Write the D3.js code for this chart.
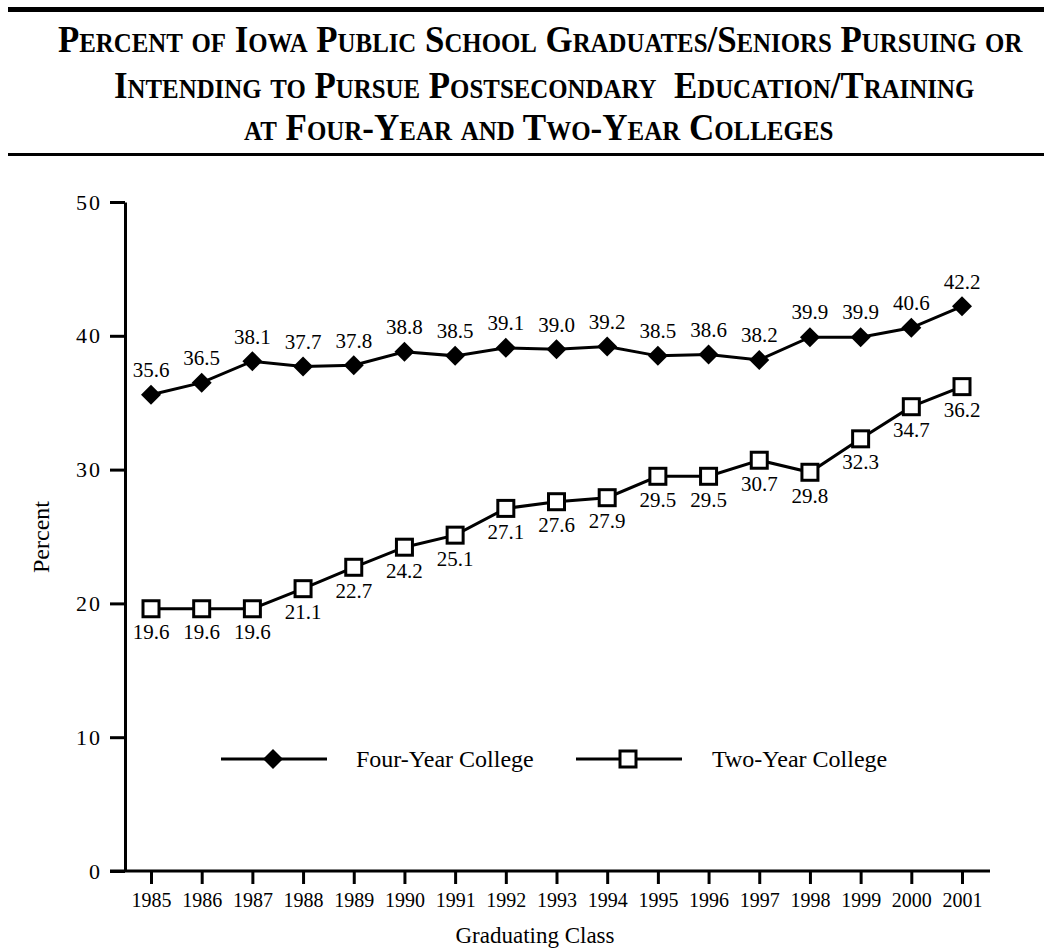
<!DOCTYPE html>
<html>
<head>
<meta charset="utf-8">
<script src="https://cdn.jsdelivr.net/npm/d3@7"></script>
<style>
  body { margin: 0; background: #fff; }
  svg { display: block; font-family: "Liberation Serif", "Times New Roman", serif; }
  svg text { font-family: "Liberation Serif", "Times New Roman", serif; fill: #000; }
  .axis path, .axis line { stroke: #000; stroke-width: 3; }
</style>
</head>
<body>
<div class="vis"></div>
<script>
// chart data
const years = [1985, 1986, 1987, 1988, 1989, 1990, 1991, 1992, 1993, 1994, 1995, 1996, 1997, 1998, 1999, 2000, 2001];
const fourYear = [35.6, 36.5, 38.1, 37.7, 37.8, 38.8, 38.5, 39.1, 39.0, 39.2, 38.5, 38.6, 38.2, 39.9, 39.9, 40.6, 42.2];
const twoYear = [19.6, 19.6, 19.6, 21.1, 22.7, 24.2, 25.1, 27.1, 27.6, 27.9, 29.5, 29.5, 30.7, 29.8, 32.3, 34.7, 36.2];
const yTicks = [0, 10, 20, 30, 40, 50];
const seriesNames = ["Four-Year College", "Two-Year College"];
const titleLines = [
    "Percent of Iowa Public School Graduates/Seniors Pursuing or",
    "Intending to Pursue Postsecondary  Education/Training",
    "at Four-Year and Two-Year Colleges"
];

const W = 1044, H = 949;

const svg = d3.select(".vis").append("svg")
    .attr("width", W)
    .attr("height", H);

// title block with rules
svg.append("rect").attr("x", 8).attr("y", 7).attr("width", W - 8).attr("height", 5).attr("fill", "#000");
svg.append("rect").attr("x", 8).attr("y", 153).attr("width", W - 8).attr("height", 3).attr("fill", "#000");

const titleLayout = [
    { y: 52, x0: 58, x1: 1020 },
    { y: 98, x0: 114, x1: 972 },
    { y: 140, x0: 244, x1: 833 }
];
// draw each title line at full size, then squeeze it horizontally to its width
svg.selectAll("text.title")
    .data(titleLines)
    .enter().append("text")
    .attr("class", "title")
    .attr("x", 0)
    .attr("y", 0)
    .style("font-size", "38px")
    .style("font-weight", "bold")
    .style("font-variant", "small-caps")
    .style("white-space", "pre")
    .text(d => d)
    .each(function(d, i) {
        const t = titleLayout[i];
        const bb = this.getBBox();
        const sx = (t.x1 - t.x0) / bb.width;
        d3.select(this).attr("transform", `translate(${t.x0 - bb.x * sx},${t.y}) scale(${sx},1)`);
    });

// scales
const x = d3.scaleLinear().domain([1985, 2001]).range([151, 962]);
const y = d3.scaleLinear().domain([0, 50]).range([871, 202]);

// y axis
const yAxis = svg.append("g")
    .attr("class", "axis y")
    .attr("transform", "translate(125,0)")
    .call(d3.axisLeft(y).tickValues(yTicks).tickSize(15).tickSizeOuter(0).tickPadding(8));
yAxis.selectAll("text").style("font-size", "22px").style("letter-spacing", "2px");

// x axis
const xAxis = svg.append("g")
    .attr("class", "axis x")
    .attr("transform", `translate(0,${y(0)})`)
    .call(d3.axisBottom(x).tickValues(years).tickFormat(d3.format("d")).tickSize(13).tickPadding(9));
xAxis.select(".domain").attr("d", "M110,0H990");
xAxis.selectAll("text").style("font-size", "20px");

// axis titles
svg.append("text")
    .attr("transform", "translate(49,537) rotate(-90)")
    .attr("text-anchor", "middle")
    .style("font-size", "24px")
    .text("Percent");

svg.append("text")
    .attr("x", 535)
    .attr("y", 943)
    .attr("text-anchor", "middle")
    .style("font-size", "23px")
    .text("Graduating Class");

// lines
const line = d3.line().x((d, i) => x(years[i])).y(d => y(d));

svg.append("path").datum(fourYear)
    .attr("d", line).attr("fill", "none").attr("stroke", "#000").attr("stroke-width", 3);
svg.append("path").datum(twoYear)
    .attr("d", line).attr("fill", "none").attr("stroke", "#000").attr("stroke-width", 3);

const diamond = (cx, cy, r) => `M${cx},${cy - r}L${cx + r},${cy}L${cx},${cy + r}L${cx - r},${cy}Z`;

// markers
svg.selectAll("path.four")
    .data(fourYear)
    .enter().append("path")
    .attr("class", "four")
    .attr("d", (d, i) => diamond(x(years[i]), y(d), 10))
    .attr("fill", "#000");

svg.selectAll("rect.two")
    .data(twoYear)
    .enter().append("rect")
    .attr("class", "two")
    .attr("x", (d, i) => x(years[i]) - 8)
    .attr("y", d => y(d) - 8)
    .attr("width", 16)
    .attr("height", 16)
    .attr("fill", "#fff")
    .attr("stroke", "#000")
    .attr("stroke-width", 3);

// value labels
svg.selectAll("text.lab4")
    .data(fourYear)
    .enter().append("text")
    .attr("class", "lab4")
    .attr("x", (d, i) => x(years[i]))
    .attr("y", d => y(d) - 25)
    .attr("dy", "0.35em")
    .attr("text-anchor", "middle")
    .style("font-size", "21px")
    .text(d => d.toFixed(1));

svg.selectAll("text.lab2")
    .data(twoYear)
    .enter().append("text")
    .attr("class", "lab2")
    .attr("x", (d, i) => x(years[i]))
    .attr("y", d => y(d) + 23)
    .attr("dy", "0.35em")
    .attr("text-anchor", "middle")
    .style("font-size", "21px")
    .text(d => d.toFixed(1));

// legend
const legendY = 759;
const legendItems = [
    { x0: 221, x1: 327, mx: 273, tx: 356 },
    { x0: 576, x1: 682, mx: 628, tx: 712 }
];
const lg = svg.append("g").attr("class", "legend");
legendItems.forEach((it, i) => {
    lg.append("line")
        .attr("x1", it.x0).attr("x2", it.x1)
        .attr("y1", legendY).attr("y2", legendY)
        .attr("stroke", "#000").attr("stroke-width", 3);
    if (i === 0) {
        lg.append("path").attr("d", diamond(it.mx, legendY, 10)).attr("fill", "#000");
    } else {
        lg.append("rect")
            .attr("x", it.mx - 8).attr("y", legendY - 8)
            .attr("width", 16).attr("height", 16)
            .attr("fill", "#fff").attr("stroke", "#000").attr("stroke-width", 3);
    }
    lg.append("text")
        .attr("x", it.tx).attr("y", legendY)
        .attr("dy", "0.35em")
        .style("font-size", "24px")
        .text(seriesNames[i]);
});
</script>
</body>
</html>
